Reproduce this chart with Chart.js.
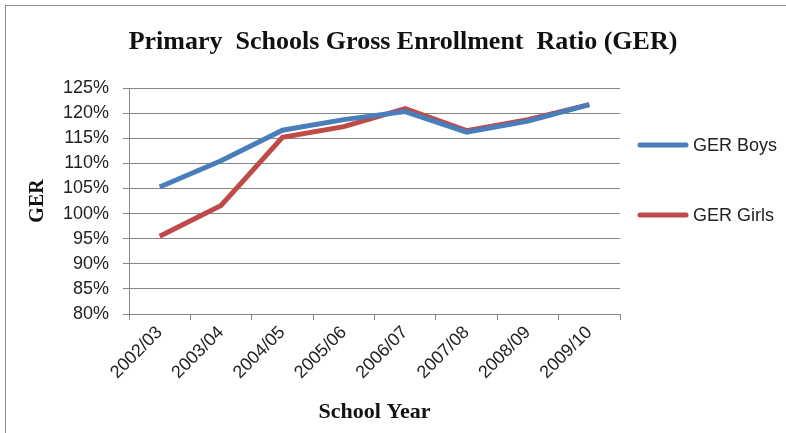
<!DOCTYPE html>
<html>
<head>
<meta charset="utf-8">
<script src="https://cdn.jsdelivr.net/npm/chart.js@4/dist/chart.umd.min.js"></script>
<style>
	html, body { margin: 0; padding: 0; background: #fff; }
	#wrap { width: 786px; height: 433px; }
</style>
</head>
<body>
<div id="wrap"><canvas id="gerChart" width="786" height="433"></canvas></div>
<script>
const schoolYears = ['2002/03', '2003/04', '2004/05', '2005/06', '2006/07', '2007/08', '2008/09', '2009/10'];
const gerBoys = [105.3, 110.5, 116.6, 118.7, 120.3, 116.2, 118.4, 121.7];
const gerGirls = [95.5, 101.6, 115.2, 117.3, 120.9, 116.5, 118.7, 121.7];
const yTicks = [80, 85, 90, 95, 100, 105, 110, 115, 120, 125];
const chartTitle = 'Primary  Schools Gross Enrollment  Ratio (GER)';

const gridGray = '#868686';
const sansFamily = "'Liberation Sans', Arial, sans-serif";
const serifFamily = "'Liberation Serif', 'Times New Roman', serif";
const tickFont = { family: sansFamily, size: 18 };

// outer frame and the title, which sits centred on the whole object
// (not over the plot) the way the spreadsheet chart has it
const framePlugin = {
	id: 'frame',
	beforeDraw: function(chart) {
		const ctx = chart.ctx;
		ctx.save();
		ctx.fillStyle = '#fff';
		ctx.fillRect(0, 0, chart.width, chart.height);
		ctx.strokeStyle = '#8c8c8c';
		ctx.lineWidth = 1;
		ctx.strokeRect(5.5, 5.5, chart.width + 20, chart.height + 20);
		ctx.fillStyle = '#111';
		ctx.font = 'bold 26px ' + serifFamily;
		ctx.textAlign = 'center';
		ctx.textBaseline = 'alphabetic';
		ctx.fillText(chartTitle, 403, 49);
		ctx.restore();
	}
};

// legend on the right, items spaced far apart like the original
const sideLegend = {
	id: 'sideLegend',
	afterDraw: function(chart) {
		const ctx = chart.ctx;
		const area = chart.chartArea;
		const x0 = area.right + 18;
		const ys = [145, 215];
		ctx.save();
		chart.data.datasets.forEach(function(ds, i) {
			ctx.strokeStyle = ds.borderColor;
			ctx.lineWidth = 5;
			ctx.lineCap = 'round';
			ctx.beginPath();
			ctx.moveTo(x0 + 2, ys[i]);
			ctx.lineTo(x0 + 48, ys[i]);
			ctx.stroke();
			ctx.fillStyle = '#222';
			ctx.font = '18px ' + sansFamily;
			ctx.textBaseline = 'middle';
			ctx.fillText(ds.label, x0 + 55, ys[i] + 1);
		});
		ctx.restore();
	}
};

const ctx = document.getElementById('gerChart').getContext('2d');
new Chart(ctx, {
	type: 'line',
	data: {
		labels: schoolYears,
		datasets: [{
			label: 'GER Boys',
			data: gerBoys,
			borderColor: '#4a7ebb',
			backgroundColor: '#4a7ebb',
			borderWidth: 5,
			pointRadius: 0,
			tension: 0
		}, {
			label: 'GER Girls',
			data: gerGirls,
			borderColor: '#be4b48',
			backgroundColor: '#be4b48',
			borderWidth: 5,
			pointRadius: 0,
			tension: 0
		}]
	},
	options: {
		responsive: false,
		animation: false,
		events: [],
		layout: { padding: { left: 0, right: 166, top: 88, bottom: 0 } },
		scales: {
			x: {
				offset: true,
				grid: {
					offset: true,
					drawOnChartArea: false,
					drawTicks: true,
					tickLength: 6,
					color: gridGray
				},
				border: { color: gridGray, width: 1 },
				ticks: {
					font: tickFont,
					color: '#222',
					maxRotation: 45,
					minRotation: 45,
					padding: 2
				},
				title: {
					display: true,
					text: 'School Year',
					font: { family: serifFamily, size: 22, weight: 'bold' },
					color: '#111',
					padding: { top: 0, bottom: 7 }
				},
				afterFit: function(scale) { scale.height = 119; }
			},
			y: {
				min: 80,
				max: 125,
				afterBuildTicks: function(scale) {
					scale.ticks = yTicks.map(function(v) { return { value: v }; });
				},
				grid: {
					color: gridGray,
					tickLength: 6,
					drawTicks: true
				},
				border: { color: gridGray, width: 1 },
				ticks: {
					font: tickFont,
					color: '#222',
					padding: 14,
					callback: function(v) { return v + '%'; }
				},
				title: {
					display: true,
					text: 'GER',
					font: { family: serifFamily, size: 20, weight: 'bold' },
					color: '#111',
					padding: { top: 26, bottom: 0 }
				},
				afterFit: function(scale) { scale.width = 129; }
			}
		},
		plugins: {
			legend: { display: false },
			tooltip: { enabled: false },
			title: { display: false }
		}
	},
	plugins: [framePlugin, sideLegend]
});
</script>
</body>
</html>
